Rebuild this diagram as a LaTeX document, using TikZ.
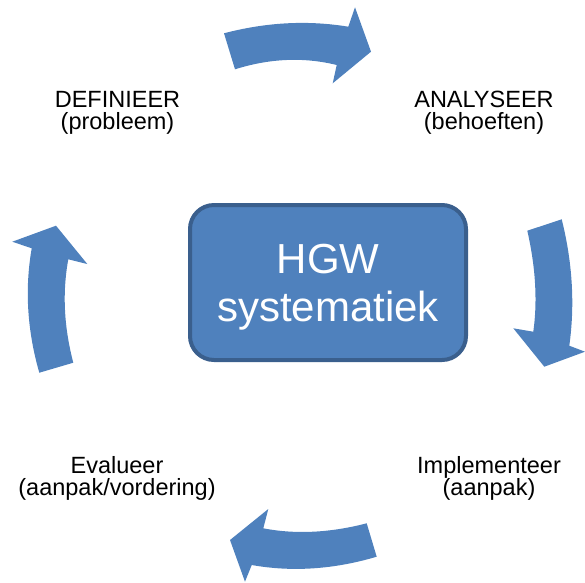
\documentclass[tikz,border=0pt]{standalone}
\usepackage{fontspec}
\setmainfont{Liberation Sans}
\definecolor{accent}{HTML}{4F81BD}
\definecolor{accentdark}{HTML}{3A5F8D}
\begin{document}
\begin{tikzpicture}[x=1pt,y=-1pt,
  cyclearrow/.style={fill=accent,draw=none},
  label/.style={align=center,inner sep=0pt,font=\fontsize{23.5}{22}\selectfont},
  centerbox/.style={draw=accentdark,fill=accent,line width=4pt,rounded corners=24pt,
    minimum width=276pt,minimum height=155pt},
  coretext/.style={text=white,align=center,inner sep=0pt,
    font=\fontsize{42}{48}\selectfont}]
\useasboundingbox (0,0) rectangle (585,582);
% centre box
\node[centerbox] (core) at (328,282.5) {};
\node[coretext] (coretxt) at (328,287.5) {HGW\\systematiek};
% labels
\node[label] (def) at (117.5,113) {DEFINIEER\\(probleem)};
\node[label] (ana) at (484,113) {ANALYSEER\\(behoeften)};
\node[label] (imp) at (489,478) {Implementeer\\(aanpak)};
\node[label] (eva) at (117,478) {Evalueer\\(aanpak/vordering)};
% top arrow
\fill[cyclearrow] (224,33.3) .. controls (266.1,22.2) and (307.6,20.0) .. (348.3,26.7)
  -- (355,7.3) -- (371,51.7) -- (332.7,83.3) -- (336.7,65)
  .. controls (303.9,56.9) and (270.0,58.3) .. (235,69.3) -- cycle;
% right arrow
\fill[cyclearrow] (561.7,219.3) .. controls (572.5,262.5) and (575.0,304.6) .. (569.3,345.7)
  -- (585,351.7) -- (544.3,366.7) -- (513.3,328.3) -- (533.3,331.7)
  .. controls (537.6,300.8) and (535.6,267.2) .. (527.3,230.7) -- cycle;
% bottom arrow
\fill[cyclearrow] (376.7,556.7) .. controls (333.8,569.4) and (292.2,572.2) .. (251.7,565)
  -- (245,581.7) -- (230,540) -- (268.3,509) -- (263.3,528.3)
  .. controls (295.5,534.5) and (330.0,532.8) .. (366.7,523.3) -- cycle;
% left arrow
\fill[cyclearrow] (73.3,362.7) .. controls (63.9,326.9) and (62.2,292.4) .. (68.3,259.3)
  -- (87.3,264) -- (56,225.7) -- (12.3,241.7) -- (31.7,248.3)
  .. controls (24.6,289.1) and (27.2,330.6) .. (39.3,372.7) -- cycle;
\end{tikzpicture}
\end{document}
